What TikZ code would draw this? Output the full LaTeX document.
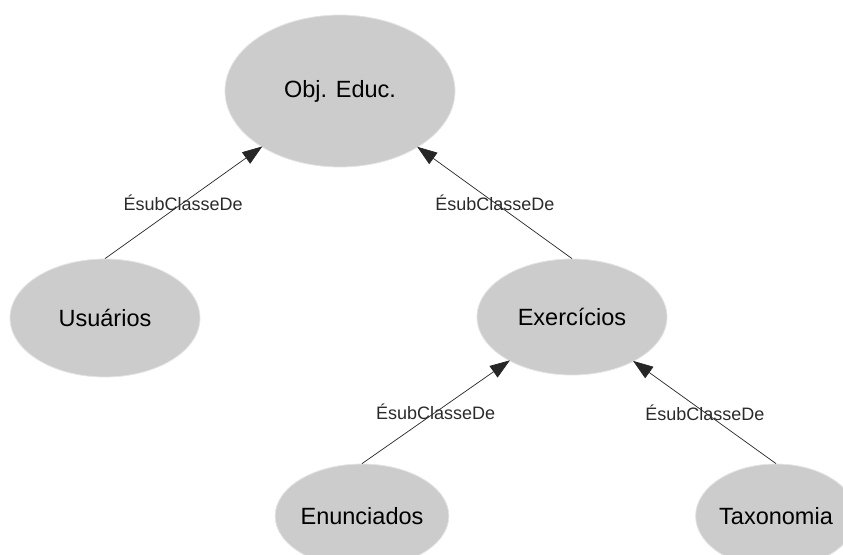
\documentclass[tikz,border=0pt]{standalone}
\usepackage{fontspec}
\setmainfont{Liberation Sans}
\usetikzlibrary{shapes.geometric,arrows.meta}
\definecolor{nodegray}{HTML}{CCCCCC}
\definecolor{rimgray}{HTML}{E4E4E4}
\definecolor{labelgray}{HTML}{2A2A2A}
\tikzset{
  classnode/.style={ellipse, fill=nodegray, draw=rimgray, line width=0.8pt,
    inner sep=0pt, font=\fontsize{23.5}{28}\selectfont, text=black},
  isa/.style={draw=black!85, line width=0.7pt,
    -{Triangle[length=20pt,width=14pt]}, shorten >=-1pt},
  isalabel/.style={midway, font=\fontsize{18}{21}\selectfont, text=labelgray}
}
\begin{document}
\begin{tikzpicture}[x=1pt,y=-1pt]
  \useasboundingbox (0,0) rectangle (843,554);
  \clip (0,0) rectangle (843,554);

  % classes
  \node[classnode, minimum width=230pt, minimum height=152pt] (obj) at (340,91)  {Obj. Educ.};
  \node[classnode, minimum width=190pt, minimum height=118pt] (usu) at (105,318) {Usuários};
  \node[classnode, minimum width=190pt, minimum height=116pt] (exe) at (572,317) {Exercícios};
  \node[classnode, minimum width=160pt, minimum height=104pt] (enu) at (362,516) {Enunciados};
  \node[classnode, minimum width=160pt, minimum height=104pt] (tax) at (776,516) {Taxonomia};

  % subclass relations
  \draw[isa] (usu.north) -- (obj) node[isalabel] {ÉsubClasseDe};
  \draw[isa] (exe.north) -- (obj) node[isalabel] {ÉsubClasseDe};
  \draw[isa] (enu.north) -- (exe) node[isalabel] {ÉsubClasseDe};
  \draw[isa] (tax.north) -- (exe) node[isalabel] {ÉsubClasseDe};
\end{tikzpicture}
\end{document}
